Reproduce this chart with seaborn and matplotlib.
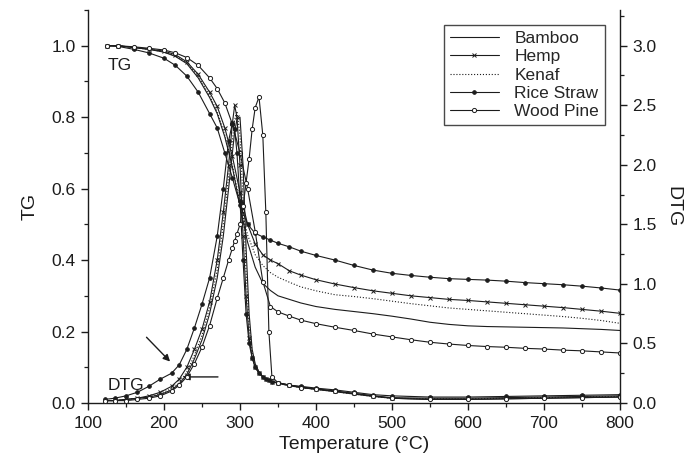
import matplotlib
matplotlib.use("Agg")
import matplotlib.pyplot as plt
from matplotlib.ticker import MultipleLocator
from matplotlib.lines import Line2D
import seaborn as sns
import pandas as pd

# ---------------- data ----------------
series = ["Bamboo", "Hemp", "Kenaf", "Rice Straw", "Wood Pine"]

temp_tg = [125, 140, 160, 180, 200, 215, 230, 245, 260, 270, 280, 290, 300, 310,
           320, 330, 340, 350, 365, 380, 400, 425, 450, 475, 500, 525, 550, 575,
           600, 625, 650, 675, 700, 725, 750, 775, 800]

tg_bamboo = [1.0, 1.0, 0.995, 0.99, 0.982, 0.97, 0.95, 0.91, 0.855, 0.81, 0.745, 0.66,
             0.55, 0.45, 0.38, 0.335, 0.315, 0.30, 0.29, 0.28, 0.27, 0.262, 0.256, 0.25,
             0.243, 0.235, 0.226, 0.22, 0.216, 0.214, 0.213, 0.212, 0.211, 0.21, 0.208,
             0.206, 0.203]
tg_hemp = [1.0, 1.0, 0.995, 0.99, 0.985, 0.975, 0.955, 0.92, 0.87, 0.83, 0.77, 0.69,
           0.59, 0.50, 0.445, 0.415, 0.40, 0.39, 0.37, 0.358, 0.345, 0.333, 0.323, 0.314,
           0.307, 0.30, 0.295, 0.29, 0.287, 0.283, 0.279, 0.275, 0.271, 0.267, 0.262,
           0.257, 0.251]
tg_kenaf = [1.0, 1.0, 0.995, 0.99, 0.983, 0.972, 0.952, 0.915, 0.86, 0.815, 0.75, 0.665,
            0.56, 0.47, 0.415, 0.385, 0.365, 0.352, 0.338, 0.325, 0.314, 0.303, 0.298,
            0.292, 0.285, 0.278, 0.272, 0.266, 0.262, 0.258, 0.254, 0.25, 0.246, 0.242,
            0.237, 0.231, 0.223]
tg_rice = [1.0, 0.998, 0.99, 0.98, 0.965, 0.945, 0.915, 0.87, 0.81, 0.77, 0.70, 0.63,
           0.555, 0.50, 0.475, 0.465, 0.456, 0.447, 0.437, 0.425, 0.413, 0.40, 0.385,
           0.372, 0.363, 0.357, 0.352, 0.348, 0.346, 0.344, 0.341, 0.337, 0.334, 0.331,
           0.327, 0.322, 0.316]
tg_pine = [1.0, 1.0, 0.997, 0.993, 0.988, 0.98, 0.967, 0.945, 0.91, 0.88, 0.84, 0.78,
           0.70, 0.60, 0.48, 0.34, 0.27, 0.255, 0.243, 0.232, 0.222, 0.212, 0.203, 0.193,
           0.185, 0.177, 0.17, 0.165, 0.161, 0.158, 0.156, 0.153, 0.151, 0.148, 0.146,
           0.143, 0.14]

temp_dtg = [122, 135, 150, 165, 180, 195, 210, 220, 230, 240, 250, 260, 270, 278, 285,
            290, 293, 296, 300, 304, 308, 312, 316, 320, 325, 330, 334, 338, 342, 350,
            365, 380, 400, 425, 450, 475, 500, 550, 600, 650, 700, 750, 800]

dtg_bamboo = [0.02, 0.02, 0.03, 0.04, 0.05, 0.07, 0.11, 0.16, 0.24, 0.37, 0.53, 0.75,
              1.05, 1.4, 1.8, 2.1, 2.28, 2.38, 2.4, 2.0, 1.3, 0.75, 0.45, 0.33, 0.26,
              0.22, 0.2, 0.19, 0.18, 0.165, 0.145, 0.13, 0.115, 0.095, 0.075, 0.055,
              0.04, 0.03, 0.03, 0.035, 0.04, 0.045, 0.05]
dtg_hemp = [0.02, 0.02, 0.03, 0.04, 0.06, 0.09, 0.14, 0.2, 0.3, 0.45, 0.62, 0.85, 1.2,
            1.6, 2.0, 2.35, 2.5, 2.4, 2.0, 1.4, 0.9, 0.55, 0.38, 0.3, 0.25, 0.22, 0.2,
            0.19, 0.18, 0.17, 0.15, 0.135, 0.12, 0.1, 0.08, 0.06, 0.045, 0.04, 0.04,
            0.045, 0.05, 0.055, 0.06]
dtg_kenaf = [0.02, 0.02, 0.03, 0.04, 0.05, 0.08, 0.12, 0.17, 0.26, 0.4, 0.57, 0.8, 1.12,
             1.5, 1.9, 2.2, 2.38, 2.45, 2.25, 1.7, 1.1, 0.65, 0.42, 0.32, 0.26, 0.22,
             0.2, 0.19, 0.18, 0.165, 0.145, 0.13, 0.115, 0.095, 0.075, 0.055, 0.04,
             0.035, 0.035, 0.04, 0.045, 0.05, 0.055]
dtg_rice = [0.03, 0.04, 0.06, 0.09, 0.14, 0.2, 0.25, 0.32, 0.45, 0.63, 0.83, 1.05, 1.4,
            1.8, 2.2, 2.35, 2.3, 2.1, 1.7, 1.2, 0.75, 0.5, 0.38, 0.3, 0.25, 0.22, 0.2,
            0.19, 0.18, 0.17, 0.15, 0.14, 0.125, 0.11, 0.09, 0.07, 0.06, 0.05, 0.05,
            0.055, 0.06, 0.065, 0.07]
dtg_pine = [0.02, 0.02, 0.02, 0.03, 0.04, 0.06, 0.1, 0.15, 0.22, 0.33, 0.47, 0.65, 0.88,
            1.05, 1.2, 1.3, 1.36, 1.42, 1.5, 1.65, 1.85, 2.05, 2.3, 2.48, 2.57, 2.25,
            1.6, 0.6, 0.22, 0.17, 0.15, 0.13, 0.115, 0.1, 0.08, 0.06, 0.04, 0.03, 0.03,
            0.035, 0.04, 0.045, 0.05]

x_ticks = [100, 200, 300, 400, 500, 600, 700, 800]
tg_ticks = [0.0, 0.2, 0.4, 0.6, 0.8, 1.0]
dtg_ticks = [0.0, 0.5, 1.0, 1.5, 2.0, 2.5, 3.0]

# ---------------- style ----------------
sns.set_style("ticks")
plt.rcParams["font.family"] = ["Liberation Sans", "DejaVu Sans"]
plt.rcParams["axes.linewidth"] = 1.0

ink = "#1c1c1c"
styles = {
    "Bamboo":     dict(linestyle="-",  marker=None, ms=0),
    "Hemp":       dict(linestyle="-",  marker="x",  ms=3.5),
    "Kenaf":      dict(linestyle=":",  marker=None, ms=0),
    "Rice Straw": dict(linestyle="-",  marker="o",  ms=2.6),
    "Wood Pine":  dict(linestyle="-",  marker="o",  ms=3.0),
}
tg_data = dict(zip(series, [tg_bamboo, tg_hemp, tg_kenaf, tg_rice, tg_pine]))
dtg_data = dict(zip(series, [dtg_bamboo, dtg_hemp, dtg_kenaf, dtg_rice, dtg_pine]))

fig = plt.figure(figsize=(6.92, 4.70), dpi=100)
ax = fig.add_axes([88 / 692, 67 / 470, 532 / 692, 393 / 470])
ax2 = ax.twinx()


def draw(axis, xs, ys, name):
    st = styles[name]
    face = "white" if name == "Wood Pine" else ink
    kw = dict(color=ink, linewidth=0.8, linestyle=st["linestyle"], ax=axis,
              legend=False)
    if st["marker"]:
        kw.update(marker=st["marker"], markersize=st["ms"], markerfacecolor=face,
                  markeredgecolor=ink, markeredgewidth=0.7)
    df = pd.DataFrame({"T": xs, "v": ys})
    sns.lineplot(data=df, x="T", y="v", **kw)


for name in series:
    draw(ax, temp_tg, tg_data[name], name)
    draw(ax2, temp_dtg, dtg_data[name], name)

# axes limits / ticks
ax.set_xlim(100, 800)
ax.set_ylim(0, 1.1)
ax2.set_ylim(0, 3.3)
ax.set_xticks(x_ticks)
ax.set_yticks(tg_ticks)
ax2.set_yticks(dtg_ticks)
ax.xaxis.set_minor_locator(MultipleLocator(50))
ax.yaxis.set_minor_locator(MultipleLocator(0.1))
ax2.yaxis.set_minor_locator(MultipleLocator(0.25))
ax.set_yticklabels([f"{v:.1f}" for v in tg_ticks])
ax2.set_yticklabels([f"{v:.1f}" for v in dtg_ticks])

for a in (ax, ax2):
    a.spines["top"].set_visible(False)
    a.tick_params(which="major", direction="out", length=5, width=1.0,
                  labelsize=12.5, colors=ink, pad=4)
    a.tick_params(which="minor", direction="out", length=3, width=0.9, colors=ink)
ax.spines["right"].set_visible(False)
ax2.spines["left"].set_visible(False)
ax2.spines["bottom"].set_visible(False)
for s in ("left", "bottom"):
    ax.spines[s].set_color(ink)
ax2.spines["right"].set_color(ink)

ax.set_xlabel("Temperature (°C)", fontsize=14, color=ink, labelpad=4)
ax.set_ylabel("TG", fontsize=14, color=ink, labelpad=9)
ax2.set_ylabel("DTG", fontsize=14, color=ink, rotation=270, labelpad=18)

# annotations
ax.text(126, 0.944, "TG", fontsize=12.5, color=ink, ha="left", va="center")
ax.text(126, 0.049, "DTG", fontsize=12.5, color=ink, ha="left", va="center")
arrow = dict(arrowstyle="-|>", color=ink, lw=1.0, mutation_scale=10,
             shrinkA=0, shrinkB=0)
ax.annotate("", xy=(208, 0.116), xytext=(177, 0.184), arrowprops=arrow)
ax.annotate("", xy=(225, 0.073), xytext=(271, 0.073), arrowprops=arrow)

# legend
handles = []
for name in series:
    st = styles[name]
    face = "white" if name == "Wood Pine" else ink
    handles.append(Line2D([0], [0], color=ink, linewidth=0.8,
                          linestyle=st["linestyle"], marker=st["marker"],
                          markersize=st["ms"], markerfacecolor=face,
                          markeredgecolor=ink, markeredgewidth=0.7,
                          label=name))
leg = ax2.legend(handles=handles, loc="upper right",
                 bbox_to_anchor=(0.972, 0.962), fontsize=12.5, frameon=True,
                 fancybox=False, edgecolor=ink, handlelength=2.8,
                 handletextpad=0.9, labelspacing=0.18, borderpad=0.35,
                 borderaxespad=0)
leg.get_frame().set_linewidth(1.0)

fig.savefig("out.png", dpi=100)
